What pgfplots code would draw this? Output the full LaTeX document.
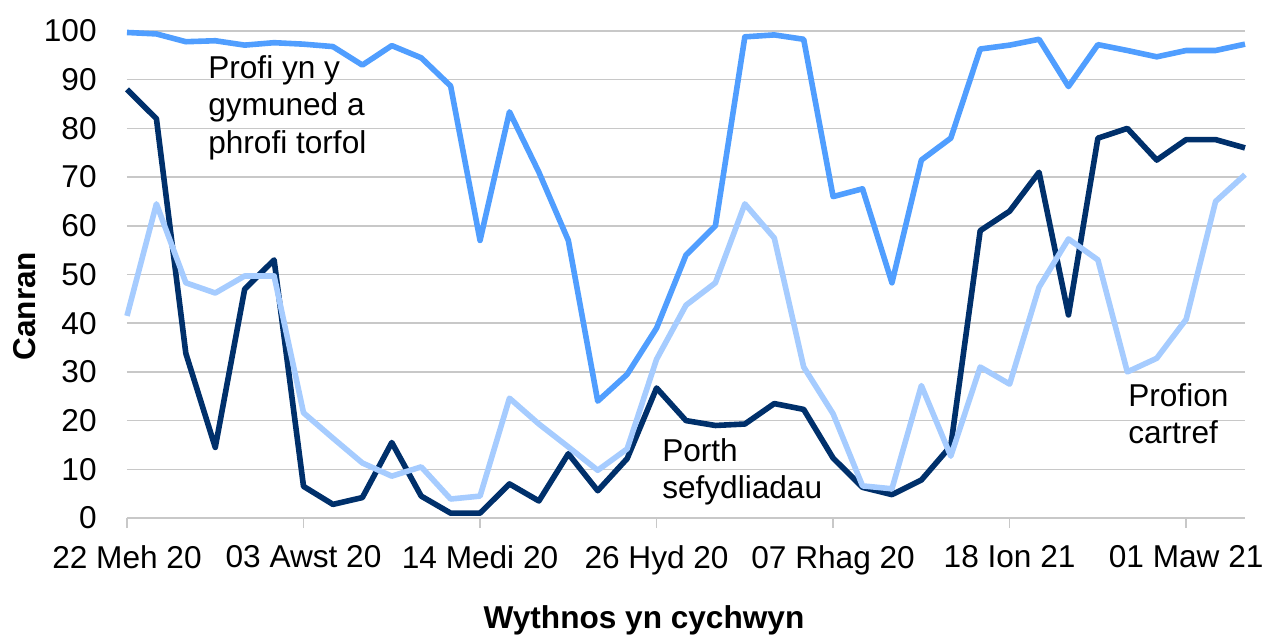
\documentclass[border=0pt]{standalone}
\usepackage{pgfplots}
\pgfplotsset{compat=1.18}
\usepackage{fontspec}
\setmainfont{Liberation Sans}
\definecolor{midblue}{RGB}{80,158,255}
\definecolor{navy}{RGB}{0,48,107}
\definecolor{paleblue}{RGB}{166,204,255}
\definecolor{gridgrey}{RGB}{200,200,200}
\newcommand{\chartfont}{\fontsize{15.8}{18.75}\selectfont}
\begin{document}
\begin{tikzpicture}
\begin{axis}[
    scale only axis,
    width=559pt, height=243.5pt,
    xmin=0, xmax=38,
    ymin=0, ymax=100,
    axis line style={draw=none},
    clip=false,
    xtick={0,6,12,18,24,30,36},
    xticklabels={22 Meh 20,03 Awst 20,14 Medi 20,26 Hyd 20,07 Rhag 20,18 Ion 21,01 Maw 21},
    ytick={0,10,...,100},
    ymajorgrids,
    grid style={gridgrey, line width=0.75pt},
    tick style={gridgrey, line width=0.75pt},
    xtick align=outside,
    major tick length=5pt,
    ytick style={draw=none},
    xtick pos=bottom,
    ytick pos=left,
    tick label style={font=\chartfont},
    /pgf/number format/assume math mode=true,
    yticklabel style={inner sep=0pt, xshift=-15pt},
    xticklabel style={inner sep=0pt, anchor=north, yshift=-8.5pt},
    every axis plot/.append style={line width=2.8pt, line join=round, mark=none},
]
\draw[gridgrey, line width=0.75pt] (axis cs:0,0) -- (axis cs:38,0);
% Profi yn y gymuned a phrofi torfol
\addplot[midblue] coordinates {
(0,99.7) (1,99.4) (2,97.8) (3,98.0) (4,97.1) (5,97.6) (6,97.3) (7,96.8) (8,93.0) (9,97.0)
(10,94.5) (11,88.7) (12,57.0) (13,83.4) (14,71.0) (15,57.0) (16,24.0) (17,29.5) (18,39.0) (19,54.0)
(20,60.0) (21,98.8) (22,99.2) (23,98.3) (24,66.0) (25,67.6) (26,48.3) (27,73.5) (28,78.0) (29,96.3)
(30,97.1) (31,98.3) (32,88.6) (33,97.2) (34,96.0) (35,94.7) (36,96.0) (37,96.0) (38,97.3)
};
% Porth sefydliadau
\addplot[navy] coordinates {
(0,88.0) (1,82.0) (2,33.8) (3,14.5) (4,47.0) (5,53.0) (6,6.5) (7,2.8) (8,4.2) (9,15.5)
(10,4.5) (11,1.0) (12,1.0) (13,7.0) (14,3.5) (15,13.2) (16,5.6) (17,12.2) (18,26.7) (19,20.0)
(20,19.0) (21,19.3) (22,23.5) (23,22.3) (24,12.3) (25,6.3) (26,4.8) (27,7.8) (28,14.8) (29,59.0)
(30,63.0) (31,71.0) (32,41.7) (33,78.0) (34,80.0) (35,73.5) (36,77.7) (37,77.7) (38,76.0)
};
% Profion cartref
\addplot[paleblue] coordinates {
(0,41.5) (1,64.5) (2,48.3) (3,46.2) (4,49.7) (5,49.7) (6,21.6) (7,16.4) (8,11.3) (9,8.6)
(10,10.5) (11,3.9) (12,4.5) (13,24.6) (14,19.3) (15,14.6) (16,9.8) (17,14.2) (18,32.6) (19,43.7)
(20,48.3) (21,64.5) (22,57.5) (23,31.0) (24,21.4) (25,6.6) (26,6.0) (27,27.2) (28,12.7) (29,31.0)
(30,27.5) (31,47.4) (32,57.3) (33,53.0) (34,30.0) (35,32.8) (36,40.8) (37,65.0) (38,70.5)
};
\node[font=\chartfont, align=left, anchor=north west, inner sep=0pt] at (axis cs:2.75,95.1) {Profi yn y\\gymuned a\\phrofi torfol};
\node[font=\chartfont, align=left, anchor=north west, inner sep=0pt] at (axis cs:18.18,16.4) {Porth\\sefydliadau};
\node[font=\chartfont, align=left, anchor=north west, inner sep=0pt] at (axis cs:34.02,27.7) {Profion\\cartref};
\node[font=\chartfont\bfseries, xshift=-51pt, rotate=90, inner sep=0pt] at (rel axis cs:0,0.435) {Canran};
\node[font=\chartfont\bfseries, anchor=base, yshift=-55pt, inner sep=0pt] at (rel axis cs:0.4624,0) {Wythnos yn cychwyn};
\end{axis}
\path ([shift={(-63.5pt,-60.5pt)}]current axis.south west) rectangle ([shift={(10.5pt,15.5pt)}]current axis.north east);
\end{tikzpicture}
\end{document}
